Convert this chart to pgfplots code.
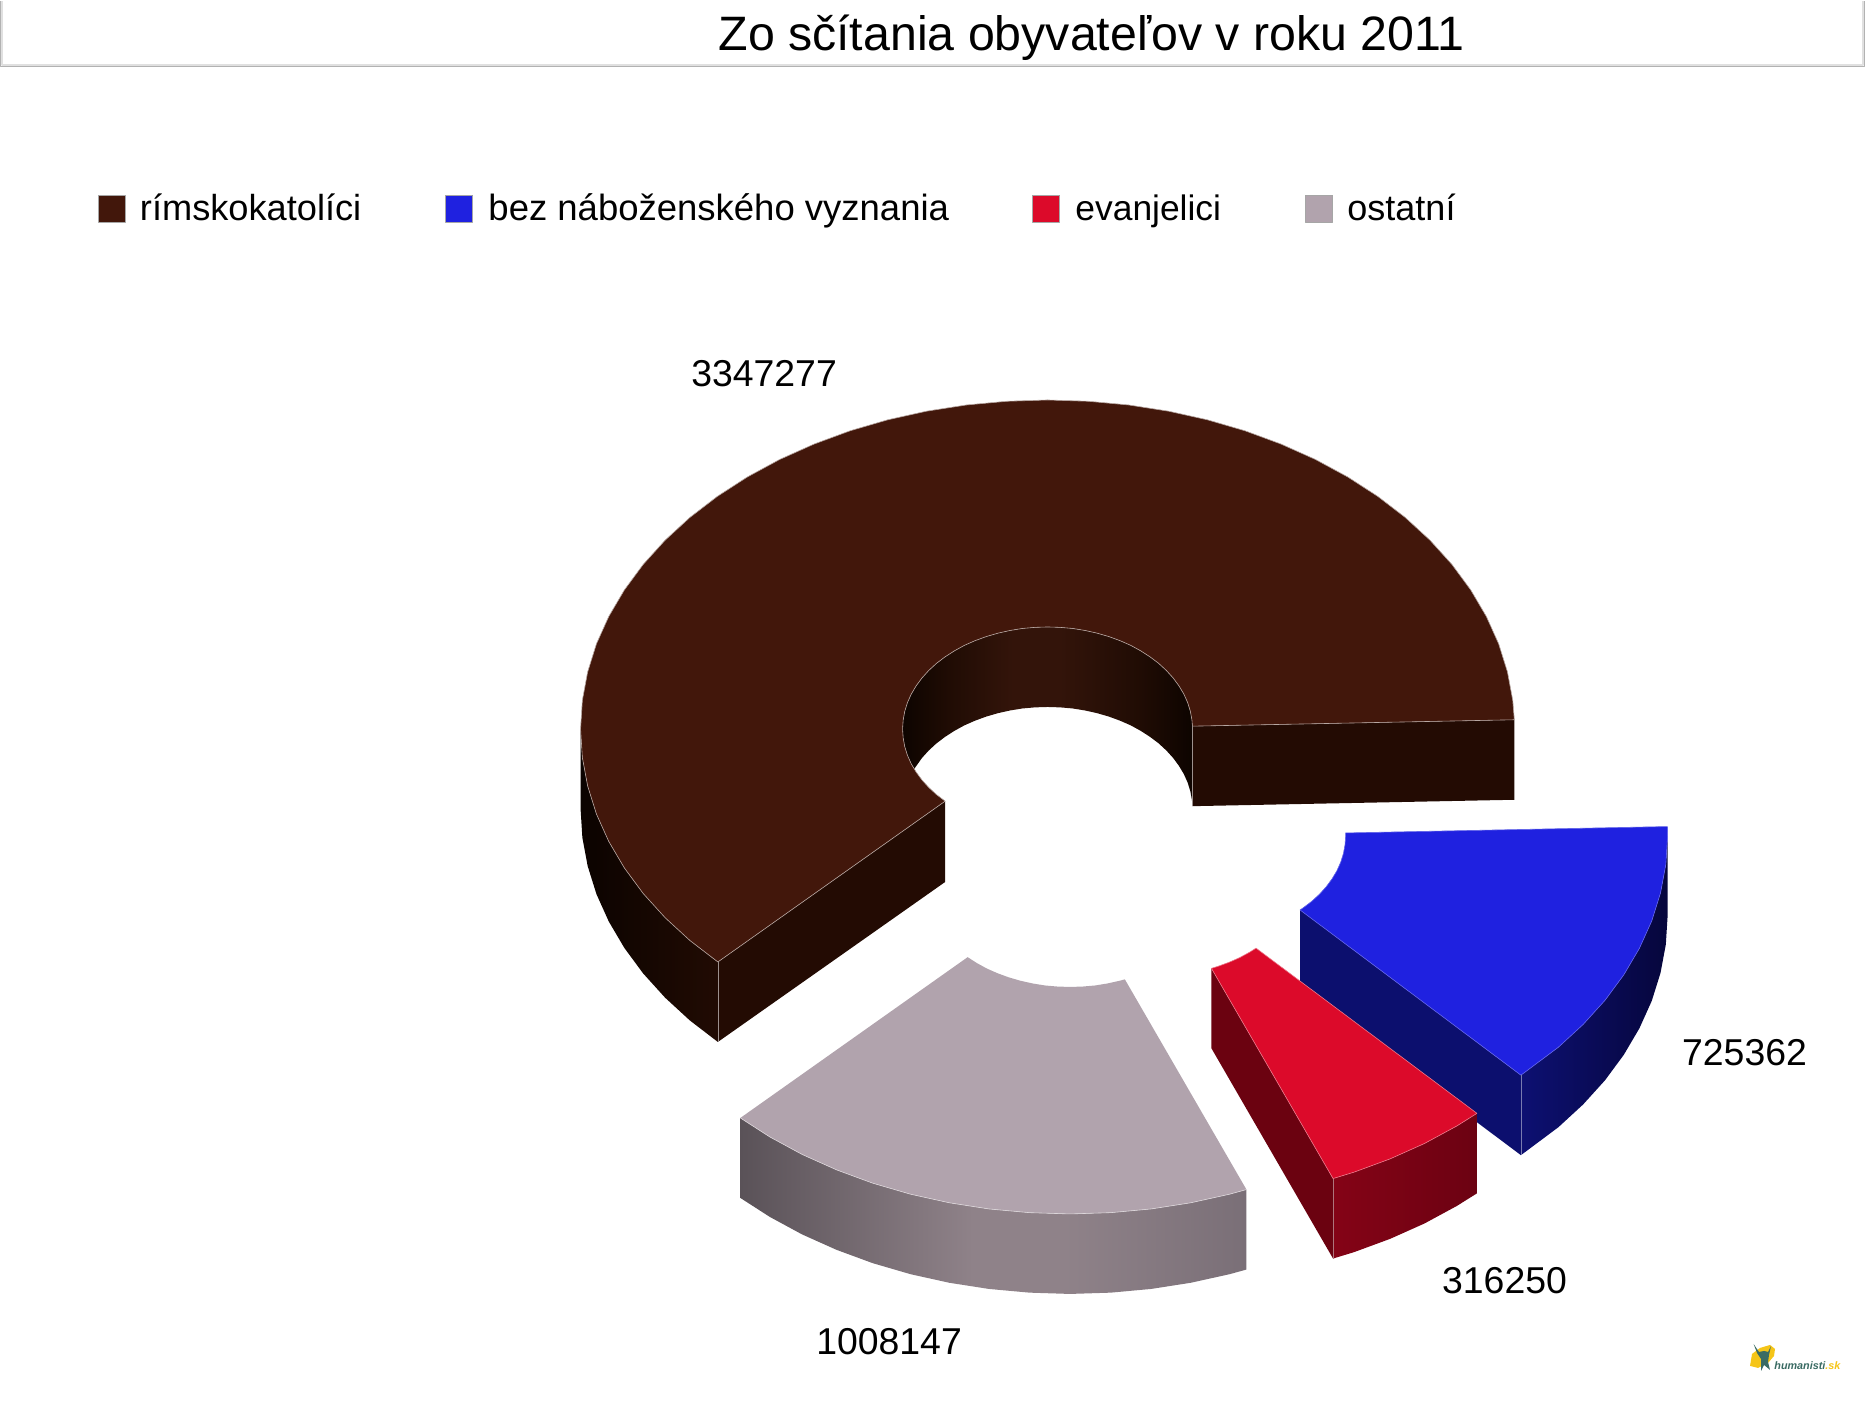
\documentclass[border=0pt]{standalone}
\usepackage{fontspec}
\setmainfont{Liberation Sans}
\usepackage{pgfplots}
\pgfplotsset{compat=1.18}
\definecolor{mainf}{HTML}{42170B}
\definecolor{mains}{HTML}{230B03}
\definecolor{mw1}{HTML}{0B0300}
\definecolor{mw2}{HTML}{210B03}
\definecolor{iw1}{HTML}{0D0400}
\definecolor{iw2}{HTML}{33140A}
\definecolor{iw3}{HTML}{200C04}
\definecolor{bluef}{HTML}{1F21E0}
\definecolor{blues}{HTML}{0C0F6E}
\definecolor{bw1}{HTML}{0D1072}
\definecolor{bw2}{HTML}{06063C}
\definecolor{redf}{HTML}{DC0A2A}
\definecolor{reds}{HTML}{6B0210}
\definecolor{rw1}{HTML}{840316}
\definecolor{rw2}{HTML}{6C0212}
\definecolor{grayf}{HTML}{B1A3AD}
\definecolor{gw1}{HTML}{5A5258}
\definecolor{gw2}{HTML}{8F8289}
\definecolor{gw3}{HTML}{7A6F77}
\definecolor{logot}{HTML}{3A6B63}
\definecolor{logoy}{HTML}{F5C518}
\pgfdeclarehorizontalshading{mainwall}{100bp}{color(0bp)=(mw1); color(25bp)=(mw1); color(75bp)=(mw2); color(100bp)=(mw2)}
\pgfdeclarehorizontalshading{innerwall}{100bp}{color(0bp)=(iw1); color(25bp)=(iw1); color(33bp)=(iw3); color(44bp)=(iw2); color(52bp)=(iw2); color(66bp)=(iw3); color(75bp)=(iw1); color(100bp)=(iw1)}
\pgfdeclarehorizontalshading{bluewall}{100bp}{color(0bp)=(bw1); color(25bp)=(bw1); color(75bp)=(bw2); color(100bp)=(bw2)}
\pgfdeclarehorizontalshading{redwall}{100bp}{color(0bp)=(rw1); color(25bp)=(rw1); color(75bp)=(rw2); color(100bp)=(rw2)}
\pgfdeclarehorizontalshading{graywall}{100bp}{color(0bp)=(gw1); color(25bp)=(gw1); color(48bp)=(gw2); color(57bp)=(gw2); color(75bp)=(gw3); color(100bp)=(gw3)}
\newcommand{\lab}[1]{\fontsize{18.7pt}{22pt}\selectfont #1}
\newcommand{\leg}[2]{\fontsize{#1pt}{22pt}\selectfont #2}
\begin{document}
\begin{tikzpicture}
\begin{axis}[
  scale only axis, width=933pt, height=700pt,
  xmin=0, xmax=1866, ymin=0, ymax=1400, y dir=reverse,
  hide axis, clip=false, no markers,
  every axis plot/.append style={line join=round}
]
\addplot[draw=none] coordinates {(0,0) (1866,1400)};
% title bar
\addplot[draw=black!12, line width=1pt] coordinates {(2,0) (2,64) (1863,64) (1863,0)};
\addplot[draw=black!30, line width=0.7pt] coordinates {(0.6,0) (0.6,65.6) (1864.6,65.6) (1864.6,0)};
% main slice: outer wall
\addplot[draw=none, shading=mainwall] coordinates {(580.5,728) (582.3,756.7) (587.6,785.1) (596.4,813.2) (608.7,840.5) (624.3,867) (643.1,892.5) (665,916.7) (689.8,939.5) (717.8,961) (717.8,1041) (689.8,1019.5) (665,996.7) (643.1,972.5) (624.3,947) (608.7,920.5) (596.4,893.2) (587.6,865.1) (582.3,836.7) (580.5,808)} -- cycle;
% main slice: inner wall
\addplot[draw=none, shading=innerwall] coordinates {(914.1,768) (911.2,762.9) (907.4,754.4) (904.7,745.7) (903.1,736.9) (902.5,728) (903.1,719.1) (904.7,710.3) (907.4,701.6) (911.2,693.1) (916.1,684.9) (921.9,677) (928.7,669.5) (936.4,662.4) (945,655.9) (954.3,649.9) (964.3,644.4) (975,639.7) (986.2,635.6) (997.9,632.2) (1010,629.5) (1022.3,627.5) (1034.9,626.4) (1047.5,626) (1060.1,626.4) (1072.7,627.5) (1085,629.5) (1097.1,632.2) (1108.8,635.6) (1120,639.7) (1130.7,644.4) (1140.7,649.9) (1150,655.9) (1158.6,662.4) (1166.3,669.5) (1173.1,677) (1178.9,684.9) (1183.8,693.1) (1187.6,701.6) (1190.3,710.3) (1191.9,719.1) (1192.4,725.2) (1192.4,805.2) (1191.9,799.1) (1190.3,790.3) (1187.6,781.6) (1183.8,773.1) (1178.9,764.9) (1173.1,757) (1166.3,749.5) (1158.6,742.4) (1150,735.9) (1140.7,729.9) (1130.7,724.4) (1120,719.7) (1108.8,715.6) (1097.1,712.2) (1085,709.5) (1072.7,707.5) (1060.1,706.4) (1047.5,706) (1034.9,706.4) (1022.3,707.5) (1010,709.5) (997.9,712.2) (986.2,715.6) (975,719.7) (964.3,724.4) (954.3,729.9) (945,735.9) (936.4,742.4) (928.7,749.5) (921.9,757)} -- cycle;
% main slice: cut faces
\addplot[fill=mains, draw=none] coordinates {(1192.4,725.2) (1514.3,718.8) (1514.3,798.8) (1192.4,805.2)} -- cycle;
\addplot[fill=mains, draw=none] coordinates {(945.1,800.2) (717.8,961) (717.8,1041) (945.1,881)} -- cycle;
% main slice: top face (3347277)
\addplot[fill=mainf, draw=white!62!mainf, line width=0.3pt] coordinates {(1514.3,718.8) (1512.7,699.3) (1507.4,670.9) (1498.6,642.8) (1486.3,615.5) (1470.7,589) (1451.9,563.5) (1430,539.3) (1405.2,516.5) (1377.7,495.4) (1347.7,476) (1315.4,458.5) (1281,443.1) (1244.9,429.8) (1207.2,418.8) (1168.4,410.2) (1128.6,404) (1088.2,400.3) (1047.5,399) (1006.8,400.3) (966.4,404) (926.6,410.2) (887.8,418.8) (850.1,429.8) (814,443.1) (779.6,458.5) (747.3,476) (717.3,495.4) (689.8,516.5) (665,539.3) (643.1,563.5) (624.3,589) (608.7,615.5) (596.4,642.8) (587.6,670.9) (582.3,699.3) (580.5,728) (582.3,756.7) (587.6,785.1) (596.4,813.2) (608.7,840.5) (624.3,867) (643.1,892.5) (665,916.7) (689.8,939.5) (717.8,961) (945.1,800.2) (936.4,793.6) (928.7,786.5) (921.9,779) (916.1,771.1) (911.2,762.9) (907.4,754.4) (904.7,745.7) (903.1,736.9) (902.5,728) (903.1,719.1) (904.7,710.3) (907.4,701.6) (911.2,693.1) (916.1,684.9) (921.9,677) (928.7,669.5) (936.4,662.4) (945,655.9) (954.3,649.9) (964.3,644.4) (975,639.7) (986.2,635.6) (997.9,632.2) (1010,629.5) (1022.3,627.5) (1034.9,626.4) (1047.5,626) (1060.1,626.4) (1072.7,627.5) (1085,629.5) (1097.1,632.2) (1108.8,635.6) (1120,639.7) (1130.7,644.4) (1140.7,649.9) (1150,655.9) (1158.6,662.4) (1166.3,669.5) (1173.1,677) (1178.9,684.9) (1183.8,693.1) (1187.6,701.6) (1190.3,710.3) (1191.9,719.1) (1192.4,725.2)} -- cycle;
\addplot[draw=white!55!mains, line width=0.25pt] coordinates {(717.8,961) (717.8,1041)};
\addplot[draw=white!55!mains, line width=0.25pt] coordinates {(1192.4,725.2) (1192.4,805.2)};
% blue slice (725362)
\addplot[fill=blues, draw=none] coordinates {(1300,909) (1520.9,1074.2) (1520.9,1154.2) (1300,989)} -- cycle;
\addplot[draw=none, shading=bluewall] coordinates {(1520.9,1074.2) (1558.3,1046.3) (1583.1,1023.5) (1605,999.3) (1623.8,973.8) (1639.4,947.3) (1651.7,920) (1660.5,891.9) (1665.8,863.5) (1667.6,834.8) (1667.6,914.8) (1665.8,943.5) (1660.5,971.9) (1651.7,1000) (1639.4,1027.3) (1623.8,1053.8) (1605,1079.3) (1583.1,1103.5) (1558.3,1126.3) (1520.9,1154.2)} -- cycle;
\addplot[fill=bluef, draw=white!30!bluef, line width=0.3pt] coordinates {(1667.4,825.6) (1667.6,834.8) (1665.8,863.5) (1660.5,891.9) (1651.7,920) (1639.4,947.3) (1623.8,973.8) (1605,999.3) (1583.1,1023.5) (1558.3,1046.3) (1520.9,1074.2) (1300,909) (1303.1,906.9) (1311.7,900.4) (1319.4,893.3) (1326.2,885.8) (1332,877.9) (1336.9,869.7) (1340.7,861.2) (1343.4,852.5) (1345,843.7) (1345.6,834.8) (1345.5,832)} -- cycle;
\addplot[draw=white!45!blues, line width=0.25pt] coordinates {(1520.9,1074.2) (1520.9,1154.2)};
% red slice (316250)
\addplot[fill=reds, draw=none] coordinates {(1211.4,967.4) (1333,1177.6) (1333,1257.6) (1211.4,1047.4)} -- cycle;
\addplot[draw=none, shading=redwall] coordinates {(1333,1177.6) (1354,1171.2) (1390.1,1157.9) (1424.5,1142.5) (1456.8,1125) (1476.9,1112.4) (1476.9,1192.4) (1456.8,1205) (1424.5,1222.5) (1390.1,1237.9) (1354,1251.2) (1333,1257.6)} -- cycle;
\addplot[fill=redf, draw=white!45!redf, line width=0.3pt] coordinates {(1333,1177.6) (1354,1171.2) (1390.1,1157.9) (1424.5,1142.5) (1456.8,1125) (1476.9,1112.4) (1256,947.2) (1249.8,951.1) (1239.8,956.6) (1229.1,961.3) (1217.9,965.4) (1211.4,967.4)} -- cycle;
\addplot[draw=white!45!reds, line width=0.25pt] coordinates {(1333,1177.6) (1333,1257.6)};
% grey slice (1008147)
\addplot[draw=none, shading=graywall] coordinates {(740.3,1117) (769.8,1136) (802.1,1153.5) (836.5,1168.9) (872.6,1182.2) (910.3,1193.2) (949.1,1201.8) (988.9,1208) (1029.3,1211.7) (1070,1213) (1110.7,1211.7) (1151.1,1208) (1190.9,1201.8) (1229.7,1193.2) (1246.4,1188.6) (1246.4,1268.6) (1229.7,1273.2) (1190.9,1281.8) (1151.1,1288) (1110.7,1291.7) (1070,1293) (1029.3,1291.7) (988.9,1288) (949.1,1281.8) (910.3,1273.2) (872.6,1262.2) (836.5,1248.9) (802.1,1233.5) (769.8,1216) (740.3,1197)} -- cycle;
\addplot[fill=grayf, draw=none] coordinates {(740.3,1117) (769.8,1136) (802.1,1153.5) (836.5,1168.9) (872.6,1182.2) (910.3,1193.2) (949.1,1201.8) (988.9,1208) (1029.3,1211.7) (1070,1213) (1110.7,1211.7) (1151.1,1208) (1190.9,1201.8) (1229.7,1193.2) (1246.4,1188.6) (1124.8,978.4) (1119.6,979.8) (1107.5,982.5) (1095.2,984.5) (1082.6,985.6) (1070,986) (1057.4,985.6) (1044.8,984.5) (1032.5,982.5) (1020.4,979.8) (1008.7,976.4) (997.5,972.3) (986.8,967.6) (976.8,962.1) (967.6,956.2)} -- cycle;
\addplot[draw=white!55!grayf, line width=0.3pt] coordinates {(740.3,1117) (769.8,1136) (802.1,1153.5) (836.5,1168.9) (872.6,1182.2) (910.3,1193.2) (949.1,1201.8) (988.9,1208) (1029.3,1211.7) (1070,1213) (1110.7,1211.7) (1151.1,1208) (1190.9,1201.8) (1229.7,1193.2) (1246.4,1188.6)};
% legend keys
\addplot[fill=mainf, draw=black!35, line width=0.4pt] coordinates {(98,194.5) (125,194.5) (125,221.5) (98,221.5)} -- cycle;
\addplot[fill=bluef, draw=black!35, line width=0.4pt] coordinates {(445.5,194.5) (472.5,194.5) (472.5,221.5) (445.5,221.5)} -- cycle;
\addplot[fill=redf, draw=black!35, line width=0.4pt] coordinates {(1032,194.5) (1059.5,194.5) (1059.5,221.5) (1032,221.5)} -- cycle;
\addplot[fill=grayf, draw=black!35, line width=0.4pt] coordinates {(1305,194.5) (1332.5,194.5) (1332.5,221.5) (1305,221.5)} -- cycle;
% logo
\addplot[fill=logoy, draw=none] coordinates {(1750,1365) (1752,1353) (1760,1347) (1770,1344) (1775,1348) (1774,1355) (1768,1362) (1758,1367)} -- cycle;
\addplot[fill=logot, draw=none] coordinates {(1753.5,1343) (1759,1351) (1764,1350) (1768,1351) (1771,1345) (1769,1354) (1768,1361) (1770,1369) (1764,1364) (1761,1370) (1761,1358) (1757,1352)} -- cycle;
% texts
\node[anchor=base, inner sep=0pt] at (axis cs:1091.5,49.5) {\fontsize{24.15pt}{28pt}\selectfont Zo sčítania obyvateľov v roku 2011};
\node[anchor=base west, inner sep=0pt] at (axis cs:139.5,220) {\leg{18.1}{rímskokatolíci}};
\node[anchor=base west, inner sep=0pt] at (axis cs:488,220) {\leg{18.25}{bez náboženského vyznania}};
\node[anchor=base west, inner sep=0pt] at (axis cs:1075,220) {\leg{17.7}{evanjelici}};
\node[anchor=base west, inner sep=0pt] at (axis cs:1347,220) {\leg{18}{ostatní}};
\node[anchor=base, inner sep=0pt] at (axis cs:764,386) {\lab{3347277}};
\node[anchor=base, inner sep=0pt] at (axis cs:1744.5,1065) {\lab{725362}};
\node[anchor=base, inner sep=0pt] at (axis cs:1504.5,1292.5) {\lab{316250}};
\node[anchor=base, inner sep=0pt] at (axis cs:889,1354) {\lab{1008147}};
\node[anchor=base west, inner sep=0pt] at (axis cs:1774,1369) {\fontsize{5.4pt}{6pt}\selectfont\bfseries\itshape\textcolor{logot}{humanisti}\textcolor{logoy}{.sk}};
\end{axis}
\end{tikzpicture}
\end{document}
